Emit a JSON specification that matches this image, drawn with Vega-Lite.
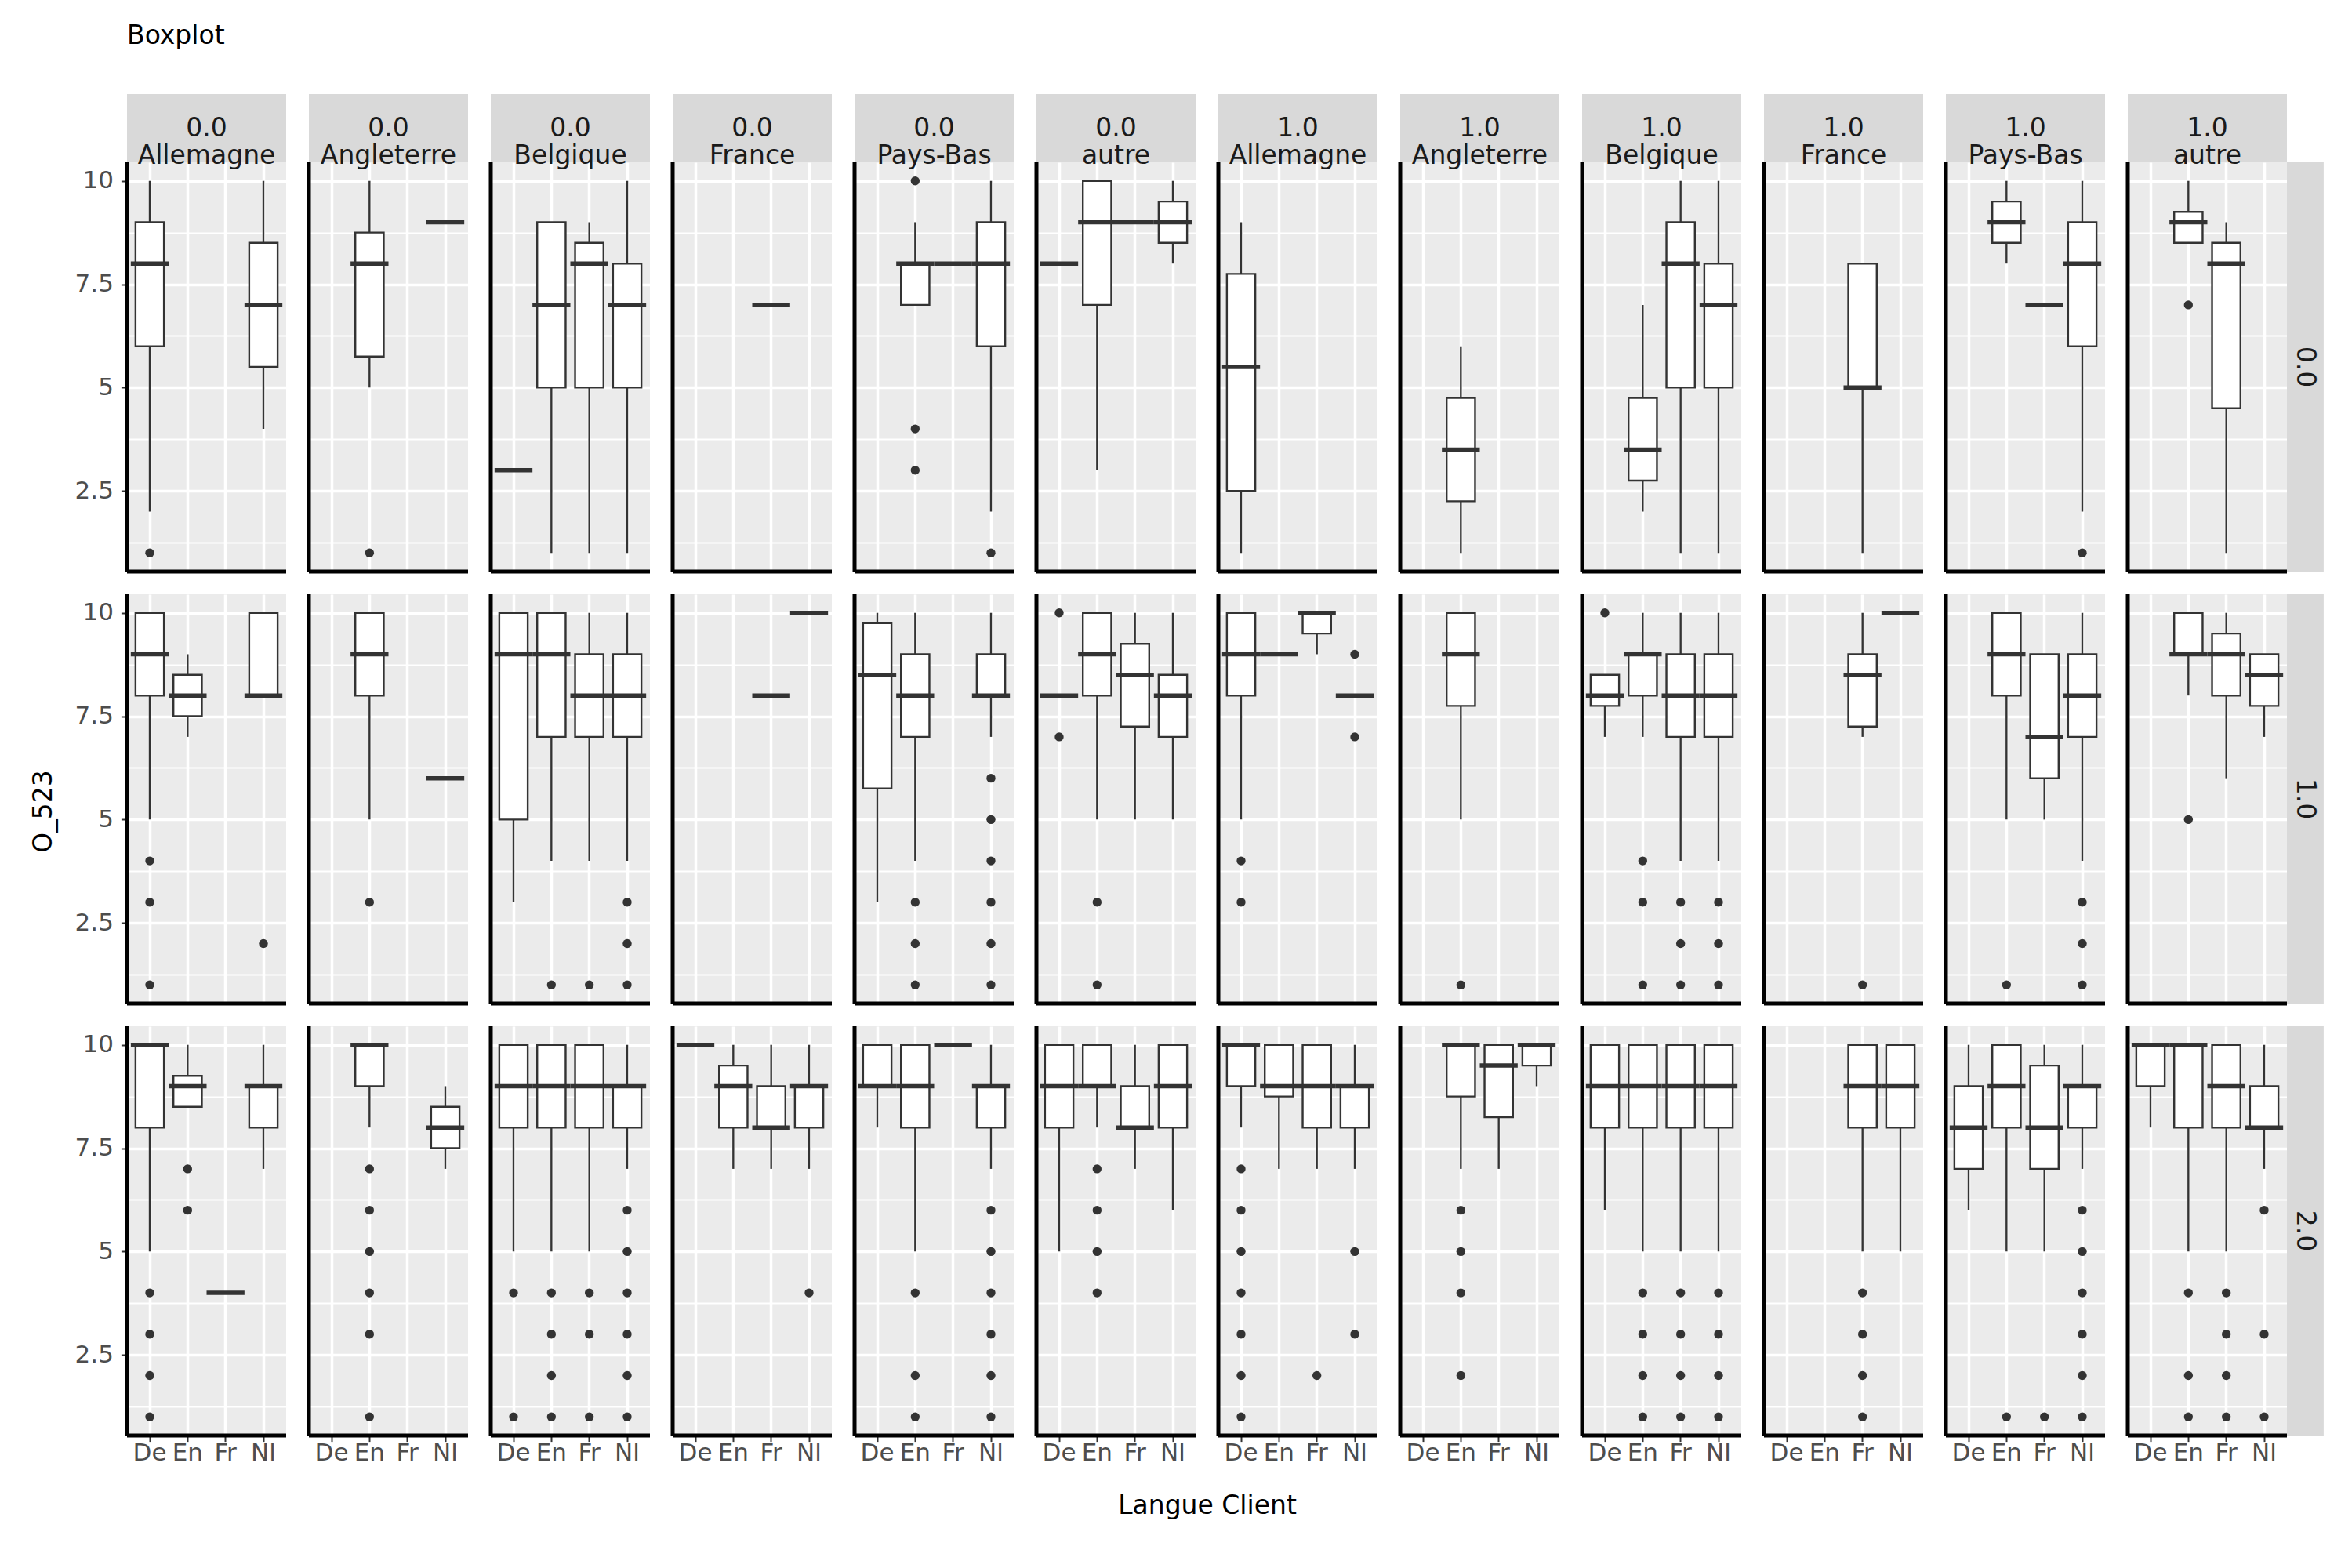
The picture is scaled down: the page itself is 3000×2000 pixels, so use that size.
{
  "$schema": "https://vega.github.io/schema/vega-lite/v6.json",
  "padding": {"left": 40, "top": 29, "right": 35, "bottom": 40},
  "title": {"text": "Boxplot", "anchor": "start", "frame": "group", "fontSize": 33, "fontWeight": "normal", "font": "DejaVu Sans", "color": "black", "offset": 57},
  "data": {"values": [
    {"k":"b","row":"0.0","col":"0.0|Allemagne","lang":"De","lo":2,"q1":6,"med":8,"q3":9,"hi":10,"out":[1]},
    {"k":"b","row":"0.0","col":"0.0|Allemagne","lang":"Nl","lo":4,"q1":5.5,"med":7,"q3":8.5,"hi":10,"out":[]},
    {"k":"b","row":"0.0","col":"0.0|Angleterre","lang":"En","lo":5,"q1":5.75,"med":8,"q3":8.75,"hi":10,"out":[1]},
    {"k":"b","row":"0.0","col":"0.0|Angleterre","lang":"Nl","lo":9,"q1":9,"med":9,"q3":9,"hi":9,"out":[]},
    {"k":"b","row":"0.0","col":"0.0|Belgique","lang":"De","lo":3,"q1":3,"med":3,"q3":3,"hi":3,"out":[]},
    {"k":"b","row":"0.0","col":"0.0|Belgique","lang":"En","lo":1,"q1":5,"med":7,"q3":9,"hi":9,"out":[]},
    {"k":"b","row":"0.0","col":"0.0|Belgique","lang":"Fr","lo":1,"q1":5,"med":8,"q3":8.5,"hi":9,"out":[]},
    {"k":"b","row":"0.0","col":"0.0|Belgique","lang":"Nl","lo":1,"q1":5,"med":7,"q3":8,"hi":10,"out":[]},
    {"k":"b","row":"0.0","col":"0.0|France","lang":"Fr","lo":7,"q1":7,"med":7,"q3":7,"hi":7,"out":[]},
    {"k":"b","row":"0.0","col":"0.0|Pays-Bas","lang":"En","lo":7,"q1":7,"med":8,"q3":8,"hi":9,"out":[10,4,3]},
    {"k":"b","row":"0.0","col":"0.0|Pays-Bas","lang":"Fr","lo":8,"q1":8,"med":8,"q3":8,"hi":8,"out":[]},
    {"k":"b","row":"0.0","col":"0.0|Pays-Bas","lang":"Nl","lo":2,"q1":6,"med":8,"q3":9,"hi":10,"out":[1]},
    {"k":"b","row":"0.0","col":"0.0|autre","lang":"De","lo":8,"q1":8,"med":8,"q3":8,"hi":8,"out":[]},
    {"k":"b","row":"0.0","col":"0.0|autre","lang":"En","lo":3,"q1":7,"med":9,"q3":10,"hi":10,"out":[]},
    {"k":"b","row":"0.0","col":"0.0|autre","lang":"Fr","lo":9,"q1":9,"med":9,"q3":9,"hi":9,"out":[]},
    {"k":"b","row":"0.0","col":"0.0|autre","lang":"Nl","lo":8,"q1":8.5,"med":9,"q3":9.5,"hi":10,"out":[]},
    {"k":"b","row":"0.0","col":"1.0|Allemagne","lang":"De","lo":1,"q1":2.5,"med":5.5,"q3":7.75,"hi":9,"out":[]},
    {"k":"b","row":"0.0","col":"1.0|Angleterre","lang":"En","lo":1,"q1":2.25,"med":3.5,"q3":4.75,"hi":6,"out":[]},
    {"k":"b","row":"0.0","col":"1.0|Belgique","lang":"En","lo":2,"q1":2.75,"med":3.5,"q3":4.75,"hi":7,"out":[]},
    {"k":"b","row":"0.0","col":"1.0|Belgique","lang":"Fr","lo":1,"q1":5,"med":8,"q3":9,"hi":10,"out":[]},
    {"k":"b","row":"0.0","col":"1.0|Belgique","lang":"Nl","lo":1,"q1":5,"med":7,"q3":8,"hi":10,"out":[]},
    {"k":"b","row":"0.0","col":"1.0|France","lang":"Fr","lo":1,"q1":5,"med":5,"q3":8,"hi":8,"out":[]},
    {"k":"b","row":"0.0","col":"1.0|Pays-Bas","lang":"En","lo":8,"q1":8.5,"med":9,"q3":9.5,"hi":10,"out":[]},
    {"k":"b","row":"0.0","col":"1.0|Pays-Bas","lang":"Fr","lo":7,"q1":7,"med":7,"q3":7,"hi":7,"out":[]},
    {"k":"b","row":"0.0","col":"1.0|Pays-Bas","lang":"Nl","lo":2,"q1":6,"med":8,"q3":9,"hi":10,"out":[1]},
    {"k":"b","row":"0.0","col":"1.0|autre","lang":"En","lo":8.5,"q1":8.5,"med":9,"q3":9.25,"hi":10,"out":[7]},
    {"k":"b","row":"0.0","col":"1.0|autre","lang":"Fr","lo":1,"q1":4.5,"med":8,"q3":8.5,"hi":9,"out":[]},

    {"k":"b","row":"1.0","col":"0.0|Allemagne","lang":"De","lo":5,"q1":8,"med":9,"q3":10,"hi":10,"out":[4,3,1]},
    {"k":"b","row":"1.0","col":"0.0|Allemagne","lang":"En","lo":7,"q1":7.5,"med":8,"q3":8.5,"hi":9,"out":[]},
    {"k":"b","row":"1.0","col":"0.0|Allemagne","lang":"Nl","lo":8,"q1":8,"med":8,"q3":10,"hi":10,"out":[2]},
    {"k":"b","row":"1.0","col":"0.0|Angleterre","lang":"En","lo":5,"q1":8,"med":9,"q3":10,"hi":10,"out":[3]},
    {"k":"b","row":"1.0","col":"0.0|Angleterre","lang":"Nl","lo":6,"q1":6,"med":6,"q3":6,"hi":6,"out":[]},
    {"k":"b","row":"1.0","col":"0.0|Belgique","lang":"De","lo":3,"q1":5,"med":9,"q3":10,"hi":10,"out":[]},
    {"k":"b","row":"1.0","col":"0.0|Belgique","lang":"En","lo":4,"q1":7,"med":9,"q3":10,"hi":10,"out":[1]},
    {"k":"b","row":"1.0","col":"0.0|Belgique","lang":"Fr","lo":4,"q1":7,"med":8,"q3":9,"hi":10,"out":[1]},
    {"k":"b","row":"1.0","col":"0.0|Belgique","lang":"Nl","lo":4,"q1":7,"med":8,"q3":9,"hi":10,"out":[3,2,1]},
    {"k":"b","row":"1.0","col":"0.0|France","lang":"Fr","lo":8,"q1":8,"med":8,"q3":8,"hi":8,"out":[]},
    {"k":"b","row":"1.0","col":"0.0|France","lang":"Nl","lo":10,"q1":10,"med":10,"q3":10,"hi":10,"out":[]},
    {"k":"b","row":"1.0","col":"0.0|Pays-Bas","lang":"De","lo":3,"q1":5.75,"med":8.5,"q3":9.75,"hi":10,"out":[]},
    {"k":"b","row":"1.0","col":"0.0|Pays-Bas","lang":"En","lo":4,"q1":7,"med":8,"q3":9,"hi":10,"out":[3,2,1]},
    {"k":"b","row":"1.0","col":"0.0|Pays-Bas","lang":"Nl","lo":7,"q1":8,"med":8,"q3":9,"hi":10,"out":[6,5,4,3,2,1]},
    {"k":"b","row":"1.0","col":"0.0|autre","lang":"De","lo":8,"q1":8,"med":8,"q3":8,"hi":8,"out":[10,7]},
    {"k":"b","row":"1.0","col":"0.0|autre","lang":"En","lo":5,"q1":8,"med":9,"q3":10,"hi":10,"out":[3,1]},
    {"k":"b","row":"1.0","col":"0.0|autre","lang":"Fr","lo":5,"q1":7.25,"med":8.5,"q3":9.25,"hi":10,"out":[]},
    {"k":"b","row":"1.0","col":"0.0|autre","lang":"Nl","lo":5,"q1":7,"med":8,"q3":8.5,"hi":10,"out":[]},
    {"k":"b","row":"1.0","col":"1.0|Allemagne","lang":"De","lo":5,"q1":8,"med":9,"q3":10,"hi":10,"out":[4,3]},
    {"k":"b","row":"1.0","col":"1.0|Allemagne","lang":"En","lo":9,"q1":9,"med":9,"q3":9,"hi":9,"out":[]},
    {"k":"b","row":"1.0","col":"1.0|Allemagne","lang":"Fr","lo":9,"q1":9.5,"med":10,"q3":10,"hi":10,"out":[]},
    {"k":"b","row":"1.0","col":"1.0|Allemagne","lang":"Nl","lo":8,"q1":8,"med":8,"q3":8,"hi":8,"out":[9,7]},
    {"k":"b","row":"1.0","col":"1.0|Angleterre","lang":"En","lo":5,"q1":7.75,"med":9,"q3":10,"hi":10,"out":[1]},
    {"k":"b","row":"1.0","col":"1.0|Belgique","lang":"De","lo":7,"q1":7.75,"med":8,"q3":8.5,"hi":8.5,"out":[10]},
    {"k":"b","row":"1.0","col":"1.0|Belgique","lang":"En","lo":7,"q1":8,"med":9,"q3":9,"hi":10,"out":[4,3,1]},
    {"k":"b","row":"1.0","col":"1.0|Belgique","lang":"Fr","lo":4,"q1":7,"med":8,"q3":9,"hi":10,"out":[3,2,1]},
    {"k":"b","row":"1.0","col":"1.0|Belgique","lang":"Nl","lo":4,"q1":7,"med":8,"q3":9,"hi":10,"out":[3,2,1]},
    {"k":"b","row":"1.0","col":"1.0|France","lang":"Fr","lo":7,"q1":7.25,"med":8.5,"q3":9,"hi":10,"out":[1]},
    {"k":"b","row":"1.0","col":"1.0|France","lang":"Nl","lo":10,"q1":10,"med":10,"q3":10,"hi":10,"out":[]},
    {"k":"b","row":"1.0","col":"1.0|Pays-Bas","lang":"En","lo":5,"q1":8,"med":9,"q3":10,"hi":10,"out":[1]},
    {"k":"b","row":"1.0","col":"1.0|Pays-Bas","lang":"Fr","lo":5,"q1":6,"med":7,"q3":9,"hi":9,"out":[]},
    {"k":"b","row":"1.0","col":"1.0|Pays-Bas","lang":"Nl","lo":4,"q1":7,"med":8,"q3":9,"hi":10,"out":[3,2,1]},
    {"k":"b","row":"1.0","col":"1.0|autre","lang":"En","lo":8,"q1":9,"med":9,"q3":10,"hi":10,"out":[5]},
    {"k":"b","row":"1.0","col":"1.0|autre","lang":"Fr","lo":6,"q1":8,"med":9,"q3":9.5,"hi":10,"out":[]},
    {"k":"b","row":"1.0","col":"1.0|autre","lang":"Nl","lo":7,"q1":7.75,"med":8.5,"q3":9,"hi":9,"out":[]},

    {"k":"b","row":"2.0","col":"0.0|Allemagne","lang":"De","lo":5,"q1":8,"med":10,"q3":10,"hi":10,"out":[4,3,2,1]},
    {"k":"b","row":"2.0","col":"0.0|Allemagne","lang":"En","lo":8.5,"q1":8.5,"med":9,"q3":9.25,"hi":10,"out":[7,6]},
    {"k":"b","row":"2.0","col":"0.0|Allemagne","lang":"Fr","lo":4,"q1":4,"med":4,"q3":4,"hi":4,"out":[]},
    {"k":"b","row":"2.0","col":"0.0|Allemagne","lang":"Nl","lo":7,"q1":8,"med":9,"q3":9,"hi":10,"out":[]},
    {"k":"b","row":"2.0","col":"0.0|Angleterre","lang":"En","lo":8,"q1":9,"med":10,"q3":10,"hi":10,"out":[7,6,5,4,3,1]},
    {"k":"b","row":"2.0","col":"0.0|Angleterre","lang":"Nl","lo":7,"q1":7.5,"med":8,"q3":8.5,"hi":9,"out":[]},
    {"k":"b","row":"2.0","col":"0.0|Belgique","lang":"De","lo":5,"q1":8,"med":9,"q3":10,"hi":10,"out":[4,1]},
    {"k":"b","row":"2.0","col":"0.0|Belgique","lang":"En","lo":5,"q1":8,"med":9,"q3":10,"hi":10,"out":[4,3,2,1]},
    {"k":"b","row":"2.0","col":"0.0|Belgique","lang":"Fr","lo":5,"q1":8,"med":9,"q3":10,"hi":10,"out":[4,3,1]},
    {"k":"b","row":"2.0","col":"0.0|Belgique","lang":"Nl","lo":7,"q1":8,"med":9,"q3":9,"hi":10,"out":[6,5,4,3,2,1]},
    {"k":"b","row":"2.0","col":"0.0|France","lang":"De","lo":10,"q1":10,"med":10,"q3":10,"hi":10,"out":[]},
    {"k":"b","row":"2.0","col":"0.0|France","lang":"En","lo":7,"q1":8,"med":9,"q3":9.5,"hi":10,"out":[]},
    {"k":"b","row":"2.0","col":"0.0|France","lang":"Fr","lo":7,"q1":8,"med":8,"q3":9,"hi":10,"out":[]},
    {"k":"b","row":"2.0","col":"0.0|France","lang":"Nl","lo":7,"q1":8,"med":9,"q3":9,"hi":10,"out":[4]},
    {"k":"b","row":"2.0","col":"0.0|Pays-Bas","lang":"De","lo":8,"q1":9,"med":9,"q3":10,"hi":10,"out":[]},
    {"k":"b","row":"2.0","col":"0.0|Pays-Bas","lang":"En","lo":5,"q1":8,"med":9,"q3":10,"hi":10,"out":[4,2,1]},
    {"k":"b","row":"2.0","col":"0.0|Pays-Bas","lang":"Fr","lo":10,"q1":10,"med":10,"q3":10,"hi":10,"out":[]},
    {"k":"b","row":"2.0","col":"0.0|Pays-Bas","lang":"Nl","lo":7,"q1":8,"med":9,"q3":9,"hi":10,"out":[6,5,4,3,2,1]},
    {"k":"b","row":"2.0","col":"0.0|autre","lang":"De","lo":5,"q1":8,"med":9,"q3":10,"hi":10,"out":[]},
    {"k":"b","row":"2.0","col":"0.0|autre","lang":"En","lo":8,"q1":9,"med":9,"q3":10,"hi":10,"out":[7,6,5,4]},
    {"k":"b","row":"2.0","col":"0.0|autre","lang":"Fr","lo":7,"q1":8,"med":8,"q3":9,"hi":10,"out":[]},
    {"k":"b","row":"2.0","col":"0.0|autre","lang":"Nl","lo":6,"q1":8,"med":9,"q3":10,"hi":10,"out":[]},
    {"k":"b","row":"2.0","col":"1.0|Allemagne","lang":"De","lo":8,"q1":9,"med":10,"q3":10,"hi":10,"out":[7,6,5,4,3,2,1]},
    {"k":"b","row":"2.0","col":"1.0|Allemagne","lang":"En","lo":7,"q1":8.75,"med":9,"q3":10,"hi":10,"out":[]},
    {"k":"b","row":"2.0","col":"1.0|Allemagne","lang":"Fr","lo":7,"q1":8,"med":9,"q3":10,"hi":10,"out":[2]},
    {"k":"b","row":"2.0","col":"1.0|Allemagne","lang":"Nl","lo":7,"q1":8,"med":9,"q3":9,"hi":10,"out":[5,3]},
    {"k":"b","row":"2.0","col":"1.0|Angleterre","lang":"En","lo":7,"q1":8.75,"med":10,"q3":10,"hi":10,"out":[6,5,4,2]},
    {"k":"b","row":"2.0","col":"1.0|Angleterre","lang":"Fr","lo":7,"q1":8.25,"med":9.5,"q3":10,"hi":10,"out":[]},
    {"k":"b","row":"2.0","col":"1.0|Angleterre","lang":"Nl","lo":9,"q1":9.5,"med":10,"q3":10,"hi":10,"out":[]},
    {"k":"b","row":"2.0","col":"1.0|Belgique","lang":"De","lo":6,"q1":8,"med":9,"q3":10,"hi":10,"out":[]},
    {"k":"b","row":"2.0","col":"1.0|Belgique","lang":"En","lo":5,"q1":8,"med":9,"q3":10,"hi":10,"out":[4,3,2,1]},
    {"k":"b","row":"2.0","col":"1.0|Belgique","lang":"Fr","lo":5,"q1":8,"med":9,"q3":10,"hi":10,"out":[4,3,2,1]},
    {"k":"b","row":"2.0","col":"1.0|Belgique","lang":"Nl","lo":5,"q1":8,"med":9,"q3":10,"hi":10,"out":[4,3,2,1]},
    {"k":"b","row":"2.0","col":"1.0|France","lang":"Fr","lo":5,"q1":8,"med":9,"q3":10,"hi":10,"out":[4,3,2,1]},
    {"k":"b","row":"2.0","col":"1.0|France","lang":"Nl","lo":5,"q1":8,"med":9,"q3":10,"hi":10,"out":[]},
    {"k":"b","row":"2.0","col":"1.0|Pays-Bas","lang":"De","lo":6,"q1":7,"med":8,"q3":9,"hi":10,"out":[]},
    {"k":"b","row":"2.0","col":"1.0|Pays-Bas","lang":"En","lo":5,"q1":8,"med":9,"q3":10,"hi":10,"out":[1]},
    {"k":"b","row":"2.0","col":"1.0|Pays-Bas","lang":"Fr","lo":5,"q1":7,"med":8,"q3":9.5,"hi":10,"out":[1]},
    {"k":"b","row":"2.0","col":"1.0|Pays-Bas","lang":"Nl","lo":7,"q1":8,"med":9,"q3":9,"hi":10,"out":[6,5,4,3,2,1]},
    {"k":"b","row":"2.0","col":"1.0|autre","lang":"De","lo":8,"q1":9,"med":10,"q3":10,"hi":10,"out":[]},
    {"k":"b","row":"2.0","col":"1.0|autre","lang":"En","lo":5,"q1":8,"med":10,"q3":10,"hi":10,"out":[4,2,1]},
    {"k":"b","row":"2.0","col":"1.0|autre","lang":"Fr","lo":5,"q1":8,"med":9,"q3":10,"hi":10,"out":[4,3,2,1]},
    {"k":"b","row":"2.0","col":"1.0|autre","lang":"Nl","lo":7,"q1":8,"med":8,"q3":9,"hi":10,"out":[6,3,1]},

    {"k":"p","row":"0.0","col":"0.0|Allemagne"},{"k":"p","row":"0.0","col":"0.0|Angleterre"},{"k":"p","row":"0.0","col":"0.0|Belgique"},{"k":"p","row":"0.0","col":"0.0|France"},{"k":"p","row":"0.0","col":"0.0|Pays-Bas"},{"k":"p","row":"0.0","col":"0.0|autre"},
    {"k":"p","row":"0.0","col":"1.0|Allemagne"},{"k":"p","row":"0.0","col":"1.0|Angleterre"},{"k":"p","row":"0.0","col":"1.0|Belgique"},{"k":"p","row":"0.0","col":"1.0|France"},{"k":"p","row":"0.0","col":"1.0|Pays-Bas"},{"k":"p","row":"0.0","col":"1.0|autre"},
    {"k":"p","row":"1.0","col":"0.0|Allemagne"},{"k":"p","row":"1.0","col":"0.0|Angleterre"},{"k":"p","row":"1.0","col":"0.0|Belgique"},{"k":"p","row":"1.0","col":"0.0|France"},{"k":"p","row":"1.0","col":"0.0|Pays-Bas"},{"k":"p","row":"1.0","col":"0.0|autre"},
    {"k":"p","row":"1.0","col":"1.0|Allemagne"},{"k":"p","row":"1.0","col":"1.0|Angleterre"},{"k":"p","row":"1.0","col":"1.0|Belgique"},{"k":"p","row":"1.0","col":"1.0|France"},{"k":"p","row":"1.0","col":"1.0|Pays-Bas"},{"k":"p","row":"1.0","col":"1.0|autre"},
    {"k":"p","row":"2.0","col":"0.0|Allemagne"},{"k":"p","row":"2.0","col":"0.0|Angleterre"},{"k":"p","row":"2.0","col":"0.0|Belgique"},{"k":"p","row":"2.0","col":"0.0|France"},{"k":"p","row":"2.0","col":"0.0|Pays-Bas"},{"k":"p","row":"2.0","col":"0.0|autre"},
    {"k":"p","row":"2.0","col":"1.0|Allemagne"},{"k":"p","row":"2.0","col":"1.0|Angleterre"},{"k":"p","row":"2.0","col":"1.0|Belgique"},{"k":"p","row":"2.0","col":"1.0|France"},{"k":"p","row":"2.0","col":"1.0|Pays-Bas"},{"k":"p","row":"2.0","col":"1.0|autre"}
  ]},
  "facet": {
    "row": {"field": "row", "type": "nominal", "sort": ["0.0", "1.0", "2.0"],
      "header": {"labels": false, "title": "O_523", "titleOrient": "left", "titleAngle": -90, "titleFontSize": 33, "titleFontWeight": "normal", "titleColor": "black", "titleFont": "DejaVu Sans", "titlePadding": -21}},
    "column": {"field": "col", "type": "nominal",
      "sort": ["0.0|Allemagne","0.0|Angleterre","0.0|Belgique","0.0|France","0.0|Pays-Bas","0.0|autre","1.0|Allemagne","1.0|Angleterre","1.0|Belgique","1.0|France","1.0|Pays-Bas","1.0|autre"],
      "header": {"labels": false, "title": "Langue Client", "titleOrient": "bottom", "titleFontSize": 33, "titleFontWeight": "normal", "titleColor": "black", "titleFont": "DejaVu Sans", "titlePadding": 26}}
  },
  "spacing": {"row": 29, "column": 29},
  "bounds": "flush",
  "spec": {
    "width": 203,
    "height": 522,
    "layer": [
      {
        "transform": [{"filter": "datum.k === 'b'"}],
        "mark": {"type": "rule", "color": "#333333", "strokeWidth": 2.4},
        "encoding": {
          "x": {"field": "lang", "type": "nominal", "scale": {"domain": ["De","En","Fr","Nl"], "paddingInner": 0, "paddingOuter": 0.1},
            "axis": {"title": null, "grid": true, "gridColor": "white", "gridWidth": 3.5, "bandPosition": 0.5, "labelAngle": 0, "labelFontSize": 31, "labelColor": "#4D4D4D", "labelFont": "DejaVu Sans", "labelPadding": 0, "tickColor": "#333333", "tickWidth": 2, "tickSize": 7.6, "domain": false}},
          "y": {"field": "lo", "type": "quantitative", "scale": {"domain": [0.55, 10.45], "nice": false, "zero": false},
            "axis": {"title": null, "values": [1.25, 2.5, 3.75, 5, 6.25, 7.5, 8.75, 10],
              "labelExpr": "datum.value % 2.5 === 0 ? toString(datum.value) : ''",
              "grid": true, "gridColor": "white",
              "gridWidth": {"condition": {"test": "datum.value % 2.5 === 0", "value": 3.5}, "value": 1.8},
              "tickOpacity": {"condition": {"test": "datum.value % 2.5 === 0", "value": 1}, "value": 0},
              "tickColor": "#333333", "tickWidth": 2, "tickSize": 7.6,
              "labelFontSize": 31, "labelColor": "#4D4D4D", "labelFont": "DejaVu Sans", "labelPadding": 10,
              "labelOverlap": false, "labelFlush": false, "domain": false}},
          "y2": {"field": "hi"}
        }
      },
      {
        "transform": [{"filter": "datum.k === 'b'"}],
        "mark": {"type": "bar", "fill": "white", "stroke": "#333333", "strokeWidth": 2.4, "width": {"band": 0.75}},
        "encoding": {
          "x": {"field": "lang", "type": "nominal", "scale": {"domain": ["De","En","Fr","Nl"], "paddingInner": 0, "paddingOuter": 0.1}},
          "y": {"field": "q1", "type": "quantitative", "scale": {"domain": [0.55, 10.45], "nice": false, "zero": false}},
          "y2": {"field": "q3"}
        }
      },
      {
        "transform": [{"filter": "datum.k === 'b'"}],
        "mark": {"type": "tick", "color": "#333333", "thickness": 5.5, "opacity": 1},
        "encoding": {
          "x": {"field": "lang", "type": "nominal", "scale": {"domain": ["De","En","Fr","Nl"], "paddingInner": 0, "paddingOuter": 0.1}},
          "y": {"field": "med", "type": "quantitative", "scale": {"domain": [0.55, 10.45], "nice": false, "zero": false}}
        }
      },
      {
        "transform": [{"filter": "datum.k === 'b'"}, {"flatten": ["out"], "as": ["v"]}],
        "mark": {"type": "circle", "color": "#333333", "size": 130, "opacity": 1},
        "encoding": {
          "x": {"field": "lang", "type": "nominal", "scale": {"domain": ["De","En","Fr","Nl"], "paddingInner": 0, "paddingOuter": 0.1}},
          "y": {"field": "v", "type": "quantitative", "scale": {"domain": [0.55, 10.45], "nice": false, "zero": false}}
        }
      },
      {
        "transform": [{"filter": "datum.k === 'p' && datum.row === '0.0'"}],
        "mark": {"type": "rect", "fill": "#D9D9D9", "clip": false},
        "encoding": {
          "y": {"datum": 10.45, "type": "quantitative", "scale": {"domain": [0.55, 10.45], "nice": false, "zero": false}},
          "y2": {"datum": 12.1}
        }
      },
      {
        "transform": [{"filter": "datum.k === 'p' && datum.row === '0.0'"}],
        "mark": {"type": "text", "lineBreak": "|", "fontSize": 33, "font": "DejaVu Sans", "color": "#1A1A1A", "baseline": "middle", "align": "center", "lineHeight": 35, "clip": false},
        "encoding": {
          "y": {"datum": 11.27, "type": "quantitative", "scale": {"domain": [0.55, 10.45], "nice": false, "zero": false}},
          "text": {"field": "col", "type": "nominal"}
        }
      },
      {
        "transform": [{"filter": "datum.k === 'p' && datum.row === '2.0'"}],
        "mark": {"type": "rect", "fill": "white", "opacity": 0, "clip": false},
        "encoding": {
          "y": {"datum": -1.7, "type": "quantitative", "scale": {"domain": [0.55, 10.45], "nice": false, "zero": false}},
          "y2": {"datum": 0.55}
        }
      },
      {
        "transform": [{"filter": "datum.k === 'p' && datum.col === '0.0|Allemagne'"}],
        "mark": {"type": "rect", "fill": "white", "opacity": 0, "clip": false},
        "encoding": {
          "x": {"datum": "De", "type": "nominal", "bandPosition": -1.07, "scale": {"domain": ["De","En","Fr","Nl"], "paddingInner": 0, "paddingOuter": 0.1}},
          "x2": {"datum": "De", "bandPosition": -0.1}
        }
      },
      {
        "transform": [{"filter": "datum.k === 'p' && datum.col === '1.0|autre'"}],
        "mark": {"type": "rect", "fill": "#D9D9D9", "clip": false},
        "encoding": {
          "x": {"datum": "Nl", "type": "nominal", "bandPosition": 1.1, "scale": {"domain": ["De","En","Fr","Nl"], "paddingInner": 0, "paddingOuter": 0.1}},
          "x2": {"datum": "Nl", "bandPosition": 2.07}
        }
      },
      {
        "transform": [{"filter": "datum.k === 'p' && datum.col === '1.0|autre'"}],
        "mark": {"type": "text", "angle": 90, "fontSize": 33, "font": "DejaVu Sans", "color": "#1A1A1A", "baseline": "middle", "align": "center", "clip": false},
        "encoding": {
          "x": {"datum": "Nl", "type": "nominal", "bandPosition": 1.585, "scale": {"domain": ["De","En","Fr","Nl"], "paddingInner": 0, "paddingOuter": 0.1}},
          "text": {"field": "row", "type": "nominal"}
        }
      },
      {
        "transform": [{"filter": "datum.k === 'p'"}],
        "mark": {"type": "rule", "color": "black", "strokeWidth": 5},
        "encoding": {
          "y": {"datum": 0.55, "type": "quantitative", "scale": {"domain": [0.55, 10.45], "nice": false, "zero": false}}
        }
      },
      {
        "transform": [{"filter": "datum.k === 'p'"}],
        "mark": {"type": "rule", "color": "black", "strokeWidth": 5},
        "encoding": {
          "x": {"datum": "De", "type": "nominal", "bandPosition": -0.1, "scale": {"domain": ["De","En","Fr","Nl"], "paddingInner": 0, "paddingOuter": 0.1}}
        }
      }
    ]
  },
  "config": {
    "font": "DejaVu Sans",
    "view": {"fill": "#EBEBEB", "stroke": null}
  }
}
